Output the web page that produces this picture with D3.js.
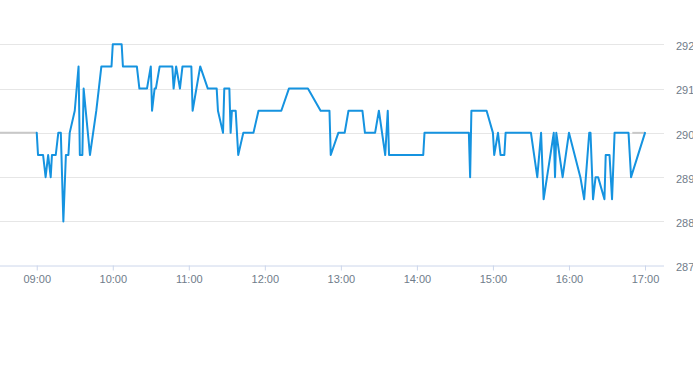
<!DOCTYPE html>
<html>
<head>
<meta charset="utf-8">
<script src="https://cdn.jsdelivr.net/npm/d3@7"></script>
<style>
  html, body { margin: 0; padding: 0; background: #fff; }
  svg { display: block; font-family: "Liberation Sans", Arial, sans-serif; }
</style>
</head>
<body>
<svg id="chart" width="693" height="365"></svg>
<script>
// ---- data ----
const times = ["09:00","09:01","09:05","09:07","09:09","09:11","09:12","09:15","09:17","09:19","09:21","09:23","09:25","09:26","09:30","09:33","09:34","09:36","09:37","09:42","09:47","09:49","09:51","09:59","10:00","10:07","10:08","10:19","10:21","10:27","10:30","10:31","10:33","10:34","10:37","10:47","10:48","10:50","10:53","10:55","11:02","11:03","11:09","11:15","11:22","11:23","11:27","11:28","11:32","11:33","11:34","11:37","11:39","11:43","11:51","11:55","12:13","12:19","12:34","12:44","12:51","12:52","12:58","13:03","13:06","13:17","13:19","13:27","13:30","13:35","13:37","13:38","14:05","14:06","14:41","14:42","14:43","14:55","15:00","15:01","15:04","15:06","15:09","15:10","15:30","15:35","15:38","15:40","15:48","15:49","15:50","15:55","16:00","16:09","16:12","16:16","16:17","16:19","16:21","16:23","16:28","16:29","16:32","16:34","16:36","16:47","16:49","17:00"];
const prices = [290,289.5,289.5,289,289.5,289,289.5,289.5,290,290,288,289.5,289.5,290,290.5,291.5,289.5,289.5,291,289.5,290.5,291,291.5,291.5,292,292,291.5,291.5,291,291,291.5,290.5,291,291,291.5,291.5,291,291.5,291,291.5,291.5,290.5,291.5,291,291,290.5,290,291,291,290,290.5,290.5,289.5,290,290,290.5,290.5,291,291,290.5,290.5,289.5,290,290,290.5,290.5,290,290,290.5,289.5,290.5,289.5,289.5,290,290,289,290.5,290.5,290,289.5,290,289.5,289.5,290,290,289,290,288.5,290,289,290,289,290,289,288.5,290,290,288.5,289,289,288.5,289.5,289.5,288.5,290,290,289,290];
const refSegments = [[["08:31",290],["09:00",290]],[["16:50",290],["17:00",290]]];
const xDomain = ["08:31","17:15"];
const xTickLabels = ["09:00","10:00","11:00","12:00","13:00","14:00","15:00","16:00","17:00"];
const yTickValues = [287,288,289,290,291,292];

// ---- drawing ----
const parse = d3.timeParse("%H:%M");
const fmt = d3.timeFormat("%H:%M");
const svg = d3.select("#chart");
const plotLeft = 0, plotRight = 664, plotTop = 44.3, plotBottom = 265.7;

const x = d3.scaleTime().domain(xDomain.map(parse)).range([plotLeft, plotRight]);
const y = d3.scaleLinear().domain([287, 292]).range([plotBottom, plotTop]);

// grid
svg.append("g").selectAll("line").data(yTickValues.filter(v => v !== 287)).join("line")
  .attr("x1", plotLeft).attr("x2", plotRight)
  .attr("y1", d => Math.round(y(d)) + 0.5).attr("y2", d => Math.round(y(d)) + 0.5)
  .attr("stroke", "#e6e6e6").attr("stroke-width", 1);

// y labels
svg.append("g").selectAll("text").data(yTickValues).join("text")
  .attr("x", 676).attr("y", d => y(d) + 5.7)
  .attr("fill", "#6f7c8a").attr("font-size", 11)
  .text(d => d);

// x axis
const xAxis = d3.axisBottom(x)
  .tickValues(xTickLabels.map(parse))
  .tickFormat(fmt)
  .tickSize(5)
  .tickSizeOuter(0);
const gx = svg.append("g").attr("transform", `translate(0,${Math.round(plotBottom) - 0.5})`).call(xAxis);
gx.select(".domain").attr("stroke", "#ccd6eb").attr("d", `M${plotLeft},0.5H${plotRight}`);
gx.selectAll(".tick line").attr("stroke", "#ccd6eb");
gx.selectAll(".tick text").attr("fill", "#6f7c8a").attr("font-size", 11)
  .attr("font-family", "Liberation Sans, Arial, sans-serif").attr("dy", "1.05em").attr("y", 6);

// reference (gray) line
const line = d3.line().x(d => x(parse(d[0]))).y(d => y(d[1]));
svg.append("g").selectAll("path").data(refSegments).join("path")
  .attr("d", line).attr("fill", "none").attr("stroke", "#c8c8c8").attr("stroke-width", 2);

// price line
const data = times.map((t, i) => [t, prices[i]]);
svg.append("path").datum(data)
  .attr("d", line).attr("fill", "none")
  .attr("stroke", "#1593e0").attr("stroke-width", 2)
  .attr("stroke-linejoin", "round").attr("stroke-linecap", "round");
</script>
</body>
</html>
